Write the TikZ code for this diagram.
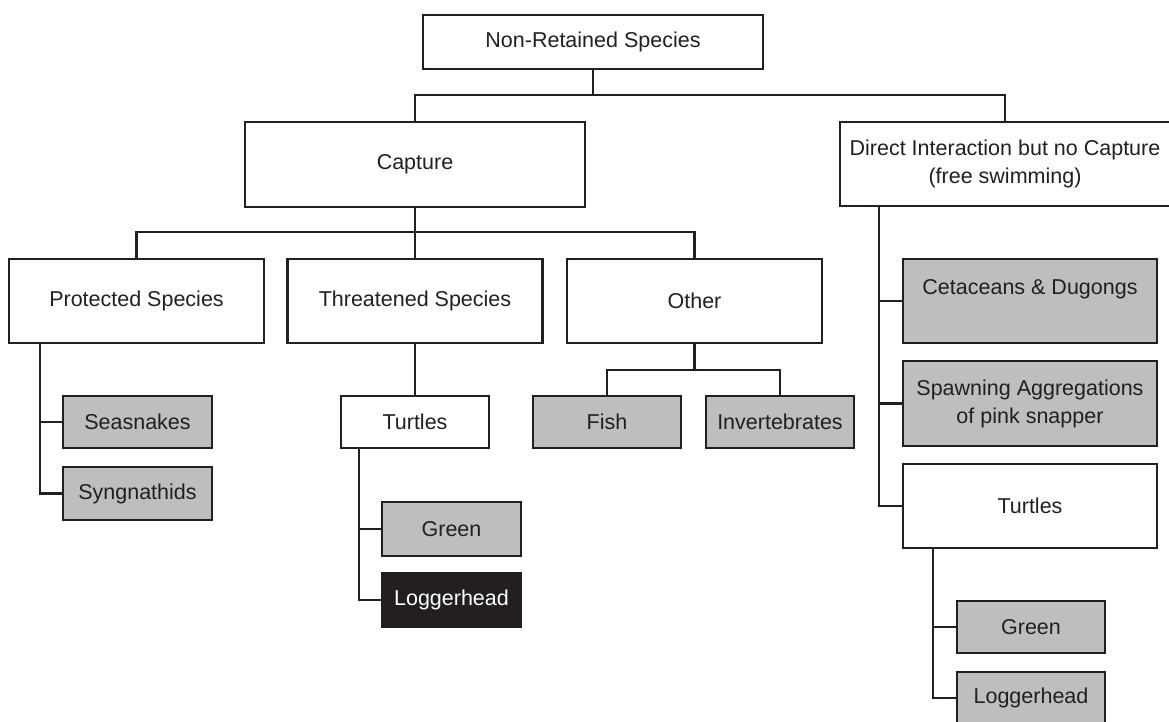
\documentclass[tikz,border=0pt]{standalone}
\usepackage{fontspec}
\setmainfont{Liberation Sans}
\definecolor{ink}{HTML}{231F20}
\definecolor{shade}{HTML}{BCBEC0}
\tikzset{box/.style = {draw=ink, line width=1.4pt, inner sep=0pt, align=center, text=ink,
                       font=\fontsize{10.75}{14}\selectfont},
         greybox/.style = {box, fill=shade},
         blackbox/.style = {box, fill=ink, text=white},
         link/.style = {draw=ink, line width=1.2pt}}

\begin{document}
\begin{tikzpicture}[x=0.5pt, y=-0.5pt]
\useasboundingbox (0,0) rectangle (1169,722);
\node [box, minimum width=170pt, minimum height=27pt] (nonret) at (593,42) {Non-Retained Species};
\node [box, minimum width=170pt, minimum height=42.5pt] (capture) at (415,164.5) {Capture};
\node [box, minimum width=165pt, minimum height=42pt] (direct) at (1005,164) {Direct Interaction but no Capture\\(free swimming)};

\node [box, minimum width=127.5pt, minimum height=42pt] (protected) at (136.5,301) {Protected Species};
\node [box, minimum width=127.5pt, minimum height=42pt] (threatened) at (415,301) {Threatened Species};
\node [box, minimum width=127.5pt, minimum height=42pt] (other) at (694.5,301) {Other};

\node [greybox, minimum width=74.5pt, minimum height=26pt] (seasnakes) at (137.5,422) {Seasnakes};
\node [greybox, minimum width=74.5pt, minimum height=26.5pt] (syngnathids) at (137.5,493.5) {Syngnathids};
\node [box, minimum width=74pt, minimum height=26pt] (turtlesM) at (415,422) {Turtles};
\node [greybox, minimum width=74pt, minimum height=26pt] (fish) at (607,422) {Fish};
\node [greybox, minimum width=74pt, minimum height=26pt] (invert) at (780,422) {Invertebrates};
\node [greybox, minimum width=69.5pt, minimum height=27pt] (greenM) at (451.5,529) {Green};
\node [blackbox, minimum width=69.5pt, minimum height=27pt] (loggerM) at (451.5,600) {Loggerhead};

\node [greybox, minimum width=127pt, minimum height=42pt] (cetaceans) at (1030,301) {Cetaceans \& Dugongs\\\mbox{}};
\node [greybox, minimum width=127pt, minimum height=42.5pt] (spawning) at (1030,403.5) {Spawning Aggregations\\of pink snapper};
\node [box, minimum width=127pt, minimum height=42pt] (turtlesR) at (1030,506) {Turtles};
\node [greybox, minimum width=74pt, minimum height=26pt] (greenR) at (1031,627) {Green};
\node [greybox, minimum width=74pt, minimum height=26pt] (loggerR) at (1031,698) {Loggerhead};

\coordinate (jtop) at (593,95);
\coordinate (jcap) at (415,232);
\coordinate (joth) at (694.5,370);
\coordinate (protspine) at (40,343);
\coordinate (turtspineM) at (359,448);
\coordinate (dirspine) at (879,206);
\coordinate (turtspineR) at (933,548);

\draw [link] (nonret.south) -- (jtop);
\draw [link] (capture.north) |- (jtop) -| (direct.north);
\draw [link] (capture.south) -- (jcap);
\draw [link] (protected.north) |- (jcap) -| (other.north);
\draw [link] (threatened.north) -- (jcap);
\draw [link] (other.south) -- (joth);
\draw [link] (fish.north) |- (joth) -| (invert.north);
\draw [link] (threatened.south) -- (turtlesM.north);

\draw [link] (protspine) |- (syngnathids.west);
\draw [link] (seasnakes.west) -- (seasnakes.west -| protspine);
\draw [link] (turtspineM) |- (loggerM.west);
\draw [link] (greenM.west) -- (greenM.west -| turtspineM);
\draw [link] (dirspine) |- (turtlesR.west);
\draw [link] (cetaceans.west) -- (cetaceans.west -| dirspine);
\draw [link] (spawning.west) -- (spawning.west -| dirspine);
\draw [link] (turtspineR) |- (loggerR.west);
\draw [link] (greenR.west) -- (greenR.west -| turtspineR);
\end{tikzpicture}
\end{document}
